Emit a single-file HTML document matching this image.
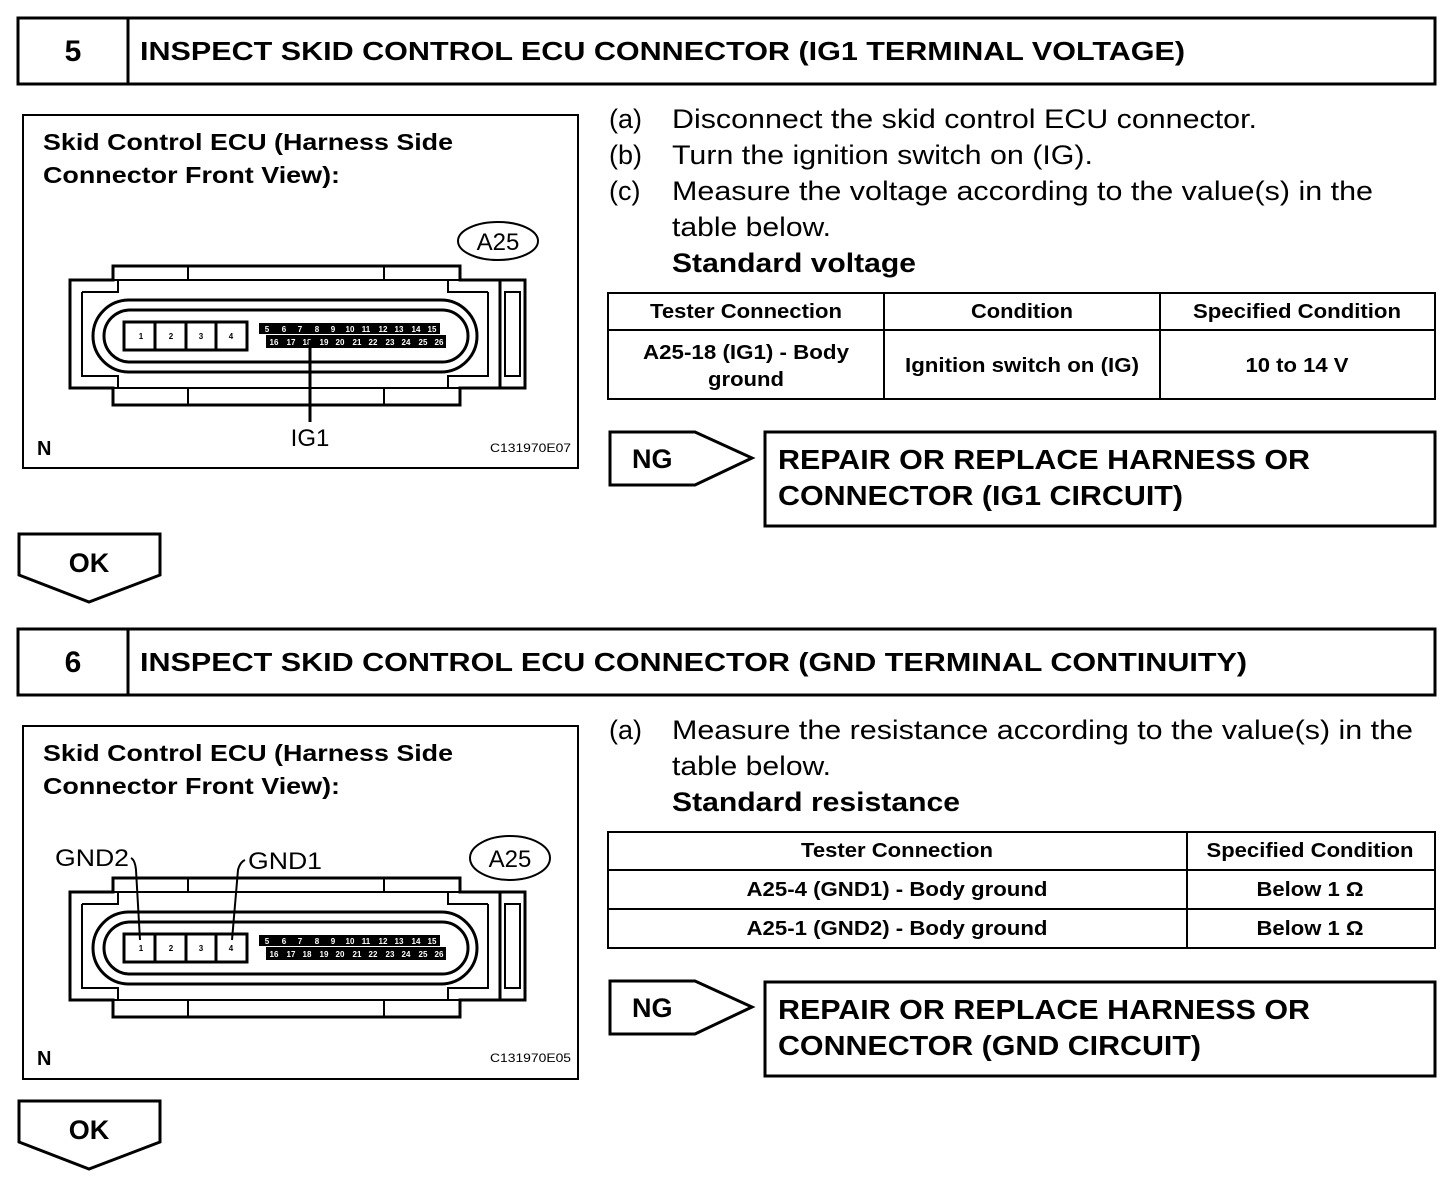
<!DOCTYPE html>
<html><head><meta charset="utf-8"><style>
body{margin:0;background:#fff}
svg{display:block;font-family:"Liberation Sans",Arial,sans-serif}
</style></head><body>
<svg width="1456" height="1192" viewBox="0 0 1456 1192" xmlns="http://www.w3.org/2000/svg">
<defs>
<g id="conn" fill="none" stroke="#000">
  <path d="M70 280 H113 V266 H460 V280 H500 V388 H460 V405 H113 V388 H70 Z" stroke-width="3" fill="#fff"/>
  <line x1="113" y1="280" x2="460" y2="280" stroke-width="2"/>
  <line x1="113" y1="388" x2="460" y2="388" stroke-width="2"/>
  <line x1="188" y1="266" x2="188" y2="280" stroke-width="2"/>
  <line x1="384" y1="266" x2="384" y2="280" stroke-width="2"/>
  <line x1="188" y1="388" x2="188" y2="405" stroke-width="2"/>
  <line x1="384" y1="388" x2="384" y2="405" stroke-width="2"/>
  <path d="M82 292 H118 V280 M82 292 V376 H118 V388 M488 292 H448 V280 M488 292 V376 H448 V388" stroke-width="2"/>
  <rect x="500" y="280" width="25" height="108" stroke-width="3"/>
  <rect x="505" y="292" width="15" height="84" stroke-width="2"/>
  <rect x="93" y="300" width="384" height="72" rx="36" stroke-width="3"/>
  <rect x="104" y="310" width="364" height="52" rx="26" stroke-width="3"/>
  <rect x="124" y="322" width="123" height="28" stroke-width="3"/>
  <line x1="155" y1="322" x2="155" y2="350" stroke-width="3"/>
  <line x1="186" y1="322" x2="186" y2="350" stroke-width="3"/>
  <line x1="216" y1="322" x2="216" y2="350" stroke-width="3"/>
  <rect x="259" y="323" width="181" height="11" fill="#000" stroke="none"/>
  <rect x="266" y="335" width="180" height="13" fill="#000" stroke="none"/>
</g>
</defs>

<rect x="18" y="18" width="1417" height="66" fill="none" stroke="#000" stroke-width="3"/>
<line x1="128" y1="18" x2="128" y2="84" stroke="#000" stroke-width="3"/>
<text x="73" y="61" font-size="30" font-weight="bold" text-anchor="middle">5</text>
<text x="140" y="60" font-size="26" font-weight="bold" textLength="1045" lengthAdjust="spacingAndGlyphs">INSPECT SKID CONTROL ECU CONNECTOR (IG1 TERMINAL VOLTAGE)</text>

<rect x="23" y="115" width="555" height="353" fill="none" stroke="#000" stroke-width="2"/>
<text x="43" y="150" font-size="23" font-weight="bold" textLength="410" lengthAdjust="spacingAndGlyphs">Skid Control ECU (Harness Side</text>
<text x="43" y="183" font-size="23" font-weight="bold" textLength="297" lengthAdjust="spacingAndGlyphs">Connector Front View):</text>
<ellipse cx="498" cy="241" rx="40" ry="19" fill="none" stroke="#000" stroke-width="2"/>
<text x="498" y="250" font-size="24" text-anchor="middle">A25</text>
<use href="#conn"/>
<g font-size="8" font-weight="bold" text-anchor="middle">
<text x="141" y="339">1</text><text x="171" y="339">2</text><text x="201" y="339">3</text><text x="231" y="339">4</text>
</g>
<g font-size="8" font-weight="bold" text-anchor="middle" fill="#fff">
<text x="267" y="332">5</text><text x="284" y="332">6</text><text x="300" y="332">7</text><text x="317" y="332">8</text><text x="333" y="332">9</text><text x="350" y="332">10</text><text x="366" y="332">11</text><text x="383" y="332">12</text><text x="399" y="332">13</text><text x="416" y="332">14</text><text x="432" y="332">15</text>
<text x="274" y="345">16</text><text x="291" y="345">17</text><text x="307" y="345">18</text><text x="324" y="345">19</text><text x="340" y="345">20</text><text x="357" y="345">21</text><text x="373" y="345">22</text><text x="390" y="345">23</text><text x="406" y="345">24</text><text x="423" y="345">25</text><text x="439" y="345">26</text>
</g>
<line x1="310" y1="340" x2="310" y2="422" stroke="#000" stroke-width="3"/>
<text x="310" y="446" font-size="24" text-anchor="middle">IG1</text>
<text x="37" y="455" font-size="20" font-weight="bold">N</text>
<text x="571" y="452" font-size="12" text-anchor="end" textLength="81" lengthAdjust="spacingAndGlyphs">C131970E07</text>

<g font-size="27">
<text x="609" y="128">(a)</text><text x="672" y="128" textLength="585" lengthAdjust="spacingAndGlyphs">Disconnect the skid control ECU connector.</text>
<text x="609" y="164">(b)</text><text x="672" y="164" textLength="421" lengthAdjust="spacingAndGlyphs">Turn the ignition switch on (IG).</text>
<text x="609" y="200">(c)</text><text x="672" y="200" textLength="701" lengthAdjust="spacingAndGlyphs">Measure the voltage according to the value(s) in the</text>
<text x="672" y="236" textLength="159" lengthAdjust="spacingAndGlyphs">table below.</text>
<text x="672" y="272" font-weight="bold" textLength="244" lengthAdjust="spacingAndGlyphs">Standard voltage</text>
</g>
<g fill="none" stroke="#000" stroke-width="2">
<rect x="608" y="293" width="827" height="106"/>
<line x1="608" y1="330" x2="1435" y2="330"/>
<line x1="884" y1="293" x2="884" y2="399"/>
<line x1="1160" y1="293" x2="1160" y2="399"/>
</g>
<g font-size="20" font-weight="bold" text-anchor="middle" lengthAdjust="spacingAndGlyphs">
<text x="746" y="318" textLength="192" lengthAdjust="spacingAndGlyphs">Tester Connection</text>
<text x="1022" y="318" textLength="102" lengthAdjust="spacingAndGlyphs">Condition</text>
<text x="1297" y="318" textLength="208" lengthAdjust="spacingAndGlyphs">Specified Condition</text>
<text x="746" y="359" textLength="206" lengthAdjust="spacingAndGlyphs">A25-18 (IG1) - Body</text>
<text x="746" y="386" textLength="76" lengthAdjust="spacingAndGlyphs">ground</text>
<text x="1022" y="372" textLength="234" lengthAdjust="spacingAndGlyphs">Ignition switch on (IG)</text>
<text x="1297" y="372" textLength="103" lengthAdjust="spacingAndGlyphs">10 to 14 V</text>
</g>
<path d="M610 432 H695 L752 458 L695 485 H610 Z" fill="none" stroke="#000" stroke-width="3"/>
<text x="632" y="468" font-size="27" font-weight="bold">NG</text>
<rect x="765" y="432" width="670" height="94" fill="none" stroke="#000" stroke-width="3"/>
<text x="778" y="469" font-size="28" font-weight="bold" textLength="532" lengthAdjust="spacingAndGlyphs">REPAIR OR REPLACE HARNESS OR</text>
<text x="778" y="505" font-size="28" font-weight="bold" textLength="405" lengthAdjust="spacingAndGlyphs">CONNECTOR (IG1 CIRCUIT)</text>
<path d="M19 534 H160 V575 L89 602 L19 575 Z" fill="none" stroke="#000" stroke-width="3"/>
<text x="89" y="572" font-size="27" font-weight="bold" text-anchor="middle">OK</text>

<rect x="18" y="629" width="1417" height="66" fill="none" stroke="#000" stroke-width="3"/>
<line x1="128" y1="629" x2="128" y2="695" stroke="#000" stroke-width="3"/>
<text x="73" y="672" font-size="30" font-weight="bold" text-anchor="middle">6</text>
<text x="140" y="671" font-size="26" font-weight="bold" textLength="1107" lengthAdjust="spacingAndGlyphs">INSPECT SKID CONTROL ECU CONNECTOR (GND TERMINAL CONTINUITY)</text>

<rect x="23" y="726" width="555" height="353" fill="none" stroke="#000" stroke-width="2"/>
<text x="43" y="761" font-size="23" font-weight="bold" textLength="410" lengthAdjust="spacingAndGlyphs">Skid Control ECU (Harness Side</text>
<text x="43" y="794" font-size="23" font-weight="bold" textLength="297" lengthAdjust="spacingAndGlyphs">Connector Front View):</text>
<ellipse cx="510" cy="858" rx="40" ry="22" fill="none" stroke="#000" stroke-width="2"/>
<text x="510" y="867" font-size="24" text-anchor="middle">A25</text>
<g transform="translate(0,612)">
<use href="#conn"/>
<g font-size="8" font-weight="bold" text-anchor="middle">
<text x="141" y="339">1</text><text x="171" y="339">2</text><text x="201" y="339">3</text><text x="231" y="339">4</text>
</g>
<g font-size="8" font-weight="bold" text-anchor="middle" fill="#fff">
<text x="267" y="332">5</text><text x="284" y="332">6</text><text x="300" y="332">7</text><text x="317" y="332">8</text><text x="333" y="332">9</text><text x="350" y="332">10</text><text x="366" y="332">11</text><text x="383" y="332">12</text><text x="399" y="332">13</text><text x="416" y="332">14</text><text x="432" y="332">15</text>
<text x="274" y="345">16</text><text x="291" y="345">17</text><text x="307" y="345">18</text><text x="324" y="345">19</text><text x="340" y="345">20</text><text x="357" y="345">21</text><text x="373" y="345">22</text><text x="390" y="345">23</text><text x="406" y="345">24</text><text x="423" y="345">25</text><text x="439" y="345">26</text>
</g>
</g>
<text x="55" y="866" font-size="24" textLength="74" lengthAdjust="spacingAndGlyphs">GND2</text>
<path d="M131 858 Q135 860 136 870 L140 940" fill="none" stroke="#000" stroke-width="2"/>
<text x="248" y="869" font-size="24" textLength="74" lengthAdjust="spacingAndGlyphs">GND1</text>
<path d="M245 860 Q240 862 238 870 L232 940" fill="none" stroke="#000" stroke-width="2"/>
<text x="37" y="1065" font-size="20" font-weight="bold">N</text>
<text x="571" y="1062" font-size="12" text-anchor="end" textLength="81" lengthAdjust="spacingAndGlyphs">C131970E05</text>

<g font-size="27">
<text x="609" y="739">(a)</text><text x="672" y="739" textLength="741" lengthAdjust="spacingAndGlyphs">Measure the resistance according to the value(s) in the</text>
<text x="672" y="775" textLength="159" lengthAdjust="spacingAndGlyphs">table below.</text>
<text x="672" y="811" font-weight="bold" textLength="288" lengthAdjust="spacingAndGlyphs">Standard resistance</text>
</g>
<g fill="none" stroke="#000" stroke-width="2">
<rect x="608" y="832" width="827" height="116"/>
<line x1="608" y1="870" x2="1435" y2="870"/>
<line x1="608" y1="909" x2="1435" y2="909"/>
<line x1="1187" y1="832" x2="1187" y2="948"/>
</g>
<g font-size="20" font-weight="bold" text-anchor="middle">
<text x="897" y="857" textLength="192" lengthAdjust="spacingAndGlyphs">Tester Connection</text>
<text x="1310" y="857" textLength="207" lengthAdjust="spacingAndGlyphs">Specified Condition</text>
<text x="897" y="896" textLength="301" lengthAdjust="spacingAndGlyphs">A25-4 (GND1) - Body ground</text>
<text x="1310" y="896" textLength="107" lengthAdjust="spacingAndGlyphs">Below 1 Ω</text>
<text x="897" y="935" textLength="301" lengthAdjust="spacingAndGlyphs">A25-1 (GND2) - Body ground</text>
<text x="1310" y="935" textLength="107" lengthAdjust="spacingAndGlyphs">Below 1 Ω</text>
</g>
<path d="M610 981 H695 L752 1007 L695 1034 H610 Z" fill="none" stroke="#000" stroke-width="3"/>
<text x="632" y="1017" font-size="27" font-weight="bold">NG</text>
<rect x="765" y="982" width="670" height="94" fill="none" stroke="#000" stroke-width="3"/>
<text x="778" y="1019" font-size="28" font-weight="bold" textLength="532" lengthAdjust="spacingAndGlyphs">REPAIR OR REPLACE HARNESS OR</text>
<text x="778" y="1055" font-size="28" font-weight="bold" textLength="423" lengthAdjust="spacingAndGlyphs">CONNECTOR (GND CIRCUIT)</text>
<path d="M19 1101 H160 V1142 L89 1169 L19 1142 Z" fill="none" stroke="#000" stroke-width="3"/>
<text x="89" y="1139" font-size="27" font-weight="bold" text-anchor="middle">OK</text>
</svg>
</body></html>
